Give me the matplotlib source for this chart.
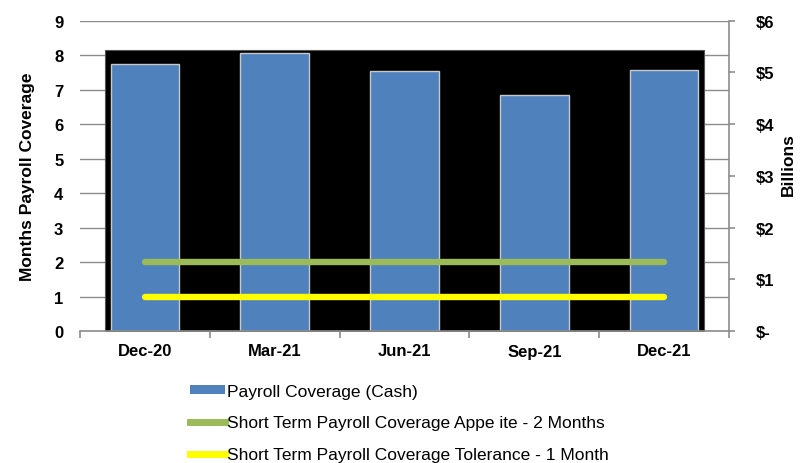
import numpy as np
import matplotlib
matplotlib.use('Agg')
import matplotlib.pyplot as plt
from matplotlib.patches import Patch
from matplotlib.lines import Line2D

plt.rcParams['font.family'] = ['Liberation Sans', 'DejaVu Sans']

# data
quarters = ['Dec-20', 'Mar-21', 'Jun-21', 'Sep-21', 'Dec-21']
coverage = [7.75, 8.05, 7.55, 6.85, 7.58]      # months of payroll covered by cash
appetite = [2, 2, 2, 2, 2]                     # short term appetite, months
tolerance = [1, 1, 1, 1, 1]                    # short term tolerance, months
backdrop_height = 8.15                         # black block behind the bars
right_ticks = [0, 1, 2, 3, 4, 5, 6]            # $ billions
right_labels = ['$-', '$1', '$2', '$3', '$4', '$5', '$6']

bar_blue = '#4F81BD'
green = '#9BBB59'
yellow = '#FFFF00'
grid_grey = '#8C8C8C'

fig = plt.figure(figsize=(8.03, 4.64), dpi=100)
ax = fig.add_axes([80 / 803, 1 - 332 / 464, 649 / 803, 310.3 / 464])
ax2 = ax.twinx()

x = np.arange(len(quarters))
ax.set_xlim(-0.5, len(quarters) - 0.5)
ax.set_ylim(0, 9)
ax2.set_ylim(0, 6)

# black block and bars
ax.fill_between([x[0] - 0.31, x[-1] + 0.31], 0, backdrop_height,
                color='black', edgecolor='#555555', lw=0.8, zorder=1)
ax.bar(x, coverage, width=0.53, color=bar_blue, edgecolor='#C8C8C8',
       linewidth=1.0, zorder=2)
ax.plot(x, appetite, color=green, lw=4.6, solid_capstyle='round', zorder=3)
ax.plot(x, tolerance, color=yellow, lw=4.6, solid_capstyle='round', zorder=3)

# grid + spines
ax.set_yticks(range(10))
ax.yaxis.grid(True, color=grid_grey, lw=1.0)
ax.set_axisbelow(True)
for s in ['left', 'top', 'right']:
    ax.spines[s].set_visible(False)
for s in ['left', 'top', 'bottom']:
    ax2.spines[s].set_visible(False)
ax.spines['bottom'].set_color(grid_grey)
ax.spines['bottom'].set_linewidth(1.2)
ax2.spines['right'].set_color(grid_grey)
ax2.spines['right'].set_linewidth(1.2)

ax.set_xticks(x)
ax.set_xticklabels(quarters)
ax.set_xticks(np.arange(-0.5, len(quarters)), minor=True)
ax.tick_params(axis='x', which='major', length=0, pad=9, labelsize=12)
ax.tick_params(axis='x', which='minor', length=5, color=grid_grey, width=1.2)
ax.tick_params(axis='y', length=0, pad=12, labelsize=12)
for lab in ax.get_xticklabels() + ax.get_yticklabels():
    lab.set_fontweight('bold')

ax2.set_yticks(right_ticks)
ax2.set_yticklabels(right_labels)
ax2.tick_params(axis='y', length=4.5, width=1.2, color=grid_grey, pad=15, labelsize=12)
for lab in ax2.get_yticklabels():
    lab.set_fontweight('bold')

ax.set_ylabel('Months Payroll Coverage', fontsize=12.5, fontweight='bold')
ax.yaxis.set_label_coords(-0.07, 0.5)
ax2.set_ylabel('Billions', fontsize=12.5, fontweight='bold', rotation=90)
ax2.yaxis.set_label_coords(1.08, 0.54)

handles = [
    Patch(facecolor=bar_blue, edgecolor='none'),
    Line2D([], [], color=green, lw=5),
    Line2D([], [], color=yellow, lw=5),
]
labels = [
    'Payroll Coverage (Cash)',
    'Short Term Payroll Coverage Appe ite - 2 Months',
    'Short Term Payroll Coverage Tolerance - 1 Month',
]
fig.legend(handles, labels, loc='upper left', bbox_to_anchor=(190 / 803, 1 - 385 / 464),
           frameon=False, fontsize=12.5, borderpad=0, borderaxespad=0,
           handlelength=2.0, handleheight=0.45, handletextpad=0.15, labelspacing=0.95)

fig.savefig('out.png', dpi=100)
